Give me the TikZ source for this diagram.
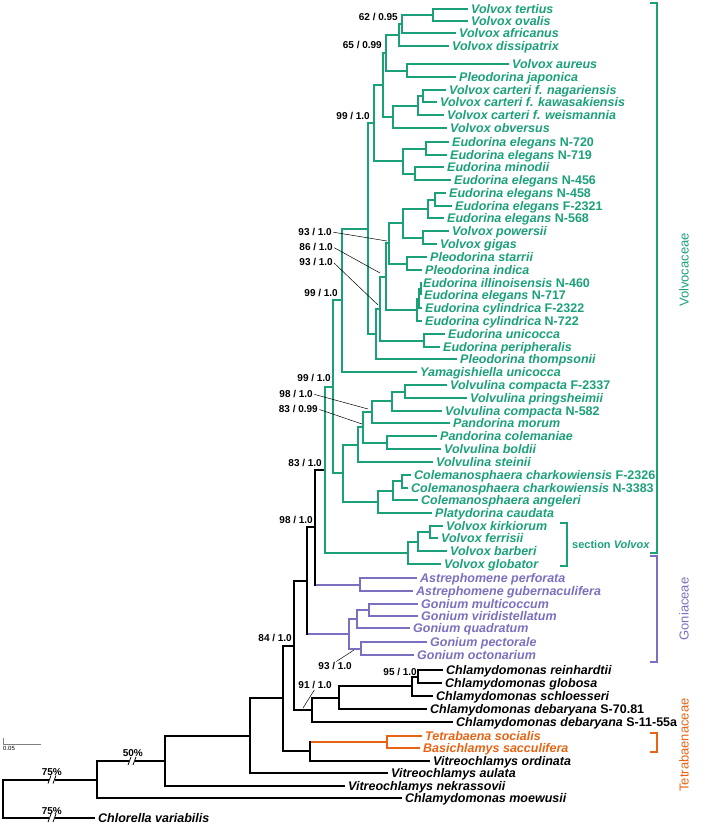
\documentclass[tikz,border=0pt]{standalone}
\usepackage{fontspec}
\setmainfont{Liberation Sans}
\usetikzlibrary{positioning}
\definecolor{volvgreen}{RGB}{27,161,122}
\definecolor{gonpurple}{RGB}{122,112,192}
\definecolor{tetorange}{RGB}{232,100,20}
\begin{document}
\begin{tikzpicture}[x=1pt,y=-1pt]
	% sizes
	\def\lw{2pt}
	\def\gap{3pt}
	% style definitions
	\tikzstyle{branch} = [draw, line width=\lw];
	\tikzstyle{vbranch} = [branch, volvgreen];
	\tikzstyle{gbranch} = [branch, gonpurple];
	\tikzstyle{tbranch} = [branch, tetorange];
	\tikzstyle{taxon} = [anchor=west, inner xsep=\gap, inner ysep=0pt, text height=9pt, text depth=0pt, font=\fontsize{12.5}{13.5}\selectfont\bfseries\itshape];
	\tikzstyle{vtaxon} = [taxon, text=volvgreen];
	\tikzstyle{gtaxon} = [taxon, text=gonpurple];
	\tikzstyle{ttaxon} = [taxon, text=tetorange];
	\tikzstyle{support} = [anchor=east, inner sep=0pt, text height=7pt, text depth=0pt, font=\fontsize{10}{11}\selectfont\bfseries];
	\tikzstyle{leader} = [draw, line width=0.5pt, shorten <=1.5pt];
	\tikzstyle{family} = [rotate=90, inner sep=0pt, font=\fontsize{13}{14}\selectfont];
	\useasboundingbox (0,0) rectangle (709,825);

	% internal nodes of the tree
	\foreach \nm/\x/\y in {root/3/799, nA/97/779.5, nB/165/761, nC/250/735.5, nD/283/698,
		nE/294/645.5, nF/307/580.5, nG/315/526.5, nH/325/470, nI/333/386.5, nJ/342/300,
		nL/368/228.5, nQ/374/123, nP/383/85, nV65/386/52.75, nV1/399/35, nV62/402/24,
		nV0/433/15, nAur/407/70.5, nCa3/393/117, nCa2/418/105.5, nCa1/423/96,
		nEu1/403/161, nEu2/426/148.5, nEu3/415/173.5, nR/376/334, nS/380/308.5,
		nT/386/276.5, nU/389/243, nEu4/403/223, nEu5/428/209, nEu6/435/199.5,
		nPg/423/237.5, nPl/407/263.5, nIl3/417/310, nIl2/419/298.5, nIl1/421/289,
		nUn/424/340.5, nK/343/473, nV6/358/444.5, nV5/363/427, nV3/372/412,
		nV2/392/401, nVv1/405/391.5, nV4/387/442.5, nCo3/378/502, nCo2/393/490.5,
		nCo1/402/481, nSv3/408/553, nSv2/418/541.5, nSv1/430/532, nAs/360/584.5,
		nGo4/349/634, nGo2/357/619, nGo1/369/610, nGo3/361/648.5, nCh4/312/710,
		nCh3/339/697.5, nCh2/412/686, nCh1/418/676.5, nT2/310/751, nT1/387/741.5}
		\coordinate (\nm) at (\x,\y);

	% Volvocaceae
	\foreach \nm/\x/\y/\txt in {tertius/468/9/Volvox tertius, ovalis/468/21/Volvox ovalis,
		africanus/456/33/Volvox africanus, dissipatrix/449/46/Volvox dissipatrix,
		aureus/509/64/Volvox aureus, japonica/456/77/Pleodorina japonica,
		nagariensis/446/90/Volvox carteri f. nagariensis,
		kawasakiensis/437/102/Volvox carteri f. kawasakiensis,
		weismannia/444/115/Volvox carteri f. weismannia, obversus/447/128/Volvox obversus,
		elN720/449/142/Eudorina elegans \upshape N-720, elN719/447/155/Eudorina elegans \upshape N-719,
		minodii/444/167/Eudorina minodii, elN456/451/180/Eudorina elegans \upshape N-456,
		elN458/446/193/Eudorina elegans \upshape N-458, elF2321/452/206/Eudorina elegans \upshape F-2321,
		elN568/444/218/Eudorina elegans \upshape N-568, powersii/449/231/Volvox powersii,
		gigas/437/244/Volvox gigas, starrii/427/257/Pleodorina starrii,
		indica/422/270/Pleodorina indica, illinois/420/283/Eudorina illinoisensis \upshape N-460,
		elN717/421/295/Eudorina elegans \upshape N-717, cyF2322/422/308/Eudorina cylindrica \upshape F-2322,
		cyN722/422/321/Eudorina cylindrica \upshape N-722, unicocca/445/334/Eudorina unicocca,
		peripheralis/440/347/Eudorina peripheralis, thompsonii/457/359/Pleodorina thompsonii,
		yamagishiella/417/372/Yamagishiella unicocca,
		coF2337/447/385/Volvulina compacta \upshape F-2337, pringsheimii/467/398/Volvulina pringsheimii,
		coN582/442/411/Volvulina compacta \upshape N-582, morum/450/423/Pandorina morum,
		colemaniae/437/436/Pandorina colemaniae, boldii/441/449/Volvulina boldii,
		steinii/433/462/Volvulina steinii,
		chF2326/411/475/Colemanosphaera charkowiensis \upshape F-2326,
		chN3383/408/488/Colemanosphaera charkowiensis \upshape N-3383,
		angeleri/418/500/Colemanosphaera angeleri, platydorina/432/513/Platydorina caudata,
		kirkiorum/443/526/Volvox kirkiorum, ferrisii/438/538/Volvox ferrisii,
		barberi/447/551/Volvox barberi, globator/441/564/Volvox globator}
		\node[vtaxon] (\nm) at (\x,\y) {\txt};

	% Goniaceae
	\foreach \nm/\x/\y/\txt in {perforata/417/578/Astrephomene perforata,
		gubernaculifera/413/591/Astrephomene gubernaculifera,
		multicoccum/418/604/Gonium multicoccum, viridistellatum/418/616/Gonium viridistellatum,
		quadratum/410/628/Gonium quadratum, pectorale/427/642/Gonium pectorale,
		octonarium/414/655/Gonium octonarium}
		\node[gtaxon] (\nm) at (\x,\y) {\txt};

	% Tetrabaenaceae
	\node[ttaxon] (tetrabaena) at (422,735.5) {Tetrabaena socialis};
	\node[ttaxon] (basichlamys) at (420,747.5) {Basichlamys sacculifera};

	% outgroups
	\foreach \nm/\x/\y/\txt in {reinhardtii/443/670/Chlamydomonas reinhardtii,
		globosa/442/683/Chlamydomonas globosa, schloesseri/433/696/Chlamydomonas schloesseri,
		deS7081/427/709/Chlamydomonas debaryana \upshape S-70.81,
		deS1155/453/722/Chlamydomonas debaryana \upshape S-11-55a,
		ordinata/430/761/Vitreochlamys ordinata, aulata/388/773/Vitreochlamys aulata,
		nekrassovii/345/786/Vitreochlamys nekrassovii, moewusii/402/798/Chlamydomonas moewusii,
		chlorella/95/818/Chlorella variabilis}
		\node[taxon] (\nm) at (\x,\y) {\txt};

	% black branches
	\foreach \p/\c in {root/nA, root/chlorella.west, nA/nB, nA/moewusii.west, nB/nC,
		nB/nekrassovii.west, nC/nD, nC/aulata.west, nD/nE, nD/nT2, nE/nF, nE/nCh4,
		nF/nG, nF/nGo4, nG/nH, nG/nAs, nCh4/nCh3, nCh4/deS1155.west, nCh3/nCh2,
		nCh3/deS7081.west, nCh2/nCh1, nCh2/schloesseri.west, nCh1/reinhardtii.west,
		nCh1/globosa.west, nT2/nT1, nT2/ordinata.west}
		\draw[branch] (\p) |- (\c);

	% green branches
	\foreach \p/\c in {nH/nI, nH/nSv3, nI/nJ, nI/nK, nJ/nL, nJ/yamagishiella.west,
		nL/nQ, nL/nR, nQ/nP, nQ/nEu1, nP/nV65, nP/nCa3, nV65/nV1, nV65/nAur,
		nV1/nV62, nV1/dissipatrix.west, nV62/nV0, nV62/africanus.west,
		nV0/tertius.west, nV0/ovalis.west, nAur/aureus.west, nAur/japonica.west,
		nCa3/nCa2, nCa3/obversus.west, nCa2/nCa1, nCa2/weismannia.west,
		nCa1/nagariensis.west, nCa1/kawasakiensis.west, nEu1/nEu2, nEu1/nEu3,
		nEu2/elN720.west, nEu2/elN719.west, nEu3/minodii.west, nEu3/elN456.west,
		nR/nS, nR/thompsonii.west, nS/nT, nS/nUn, nT/nU, nT/nIl3, nU/nEu4, nU/nPl,
		nEu4/nEu5, nEu4/nPg, nEu5/nEu6, nEu5/elN568.west, nEu6/elN458.west,
		nEu6/elF2321.west, nPg/powersii.west, nPg/gigas.west, nPl/starrii.west,
		nPl/indica.west, nIl3/nIl2, nIl3/cyN722.west, nIl2/nIl1, nIl2/cyF2322.west,
		nIl1/illinois.west, nIl1/elN717.west, nUn/unicocca.west, nUn/peripheralis.west,
		nK/nV6, nK/nCo3, nV6/nV5, nV6/steinii.west, nV5/nV3, nV5/nV4, nV3/nV2,
		nV3/morum.west, nV2/nVv1, nV2/coN582.west, nVv1/coF2337.west,
		nVv1/pringsheimii.west, nV4/colemaniae.west, nV4/boldii.west, nCo3/nCo2,
		nCo3/platydorina.west, nCo2/nCo1, nCo2/angeleri.west, nCo1/chF2326.west,
		nCo1/chN3383.west, nSv3/nSv2, nSv3/globator.west, nSv2/nSv1,
		nSv2/barberi.west, nSv1/kirkiorum.west, nSv1/ferrisii.west}
		\draw[vbranch] (\p) |- (\c);

	% purple branches
	\draw[gbranch] ([xshift=1pt]nG |- nAs) -- (nAs);
	\draw[gbranch] ([xshift=1pt]nF |- nGo4) -- (nGo4);
	\foreach \p/\c in {nAs/perforata.west, nAs/gubernaculifera.west, nGo4/nGo2, nGo4/nGo3,
		nGo2/nGo1, nGo2/quadratum.west, nGo1/multicoccum.west, nGo1/viridistellatum.west,
		nGo3/pectorale.west, nGo3/octonarium.west}
		\draw[gbranch] (\p) |- (\c);

	% orange branches
	\draw[tbranch] ([xshift=1pt]nT2 |- nT1) -- (nT1);
	\draw[tbranch] (nT1) |- (tetrabaena.west);
	\draw[tbranch] (nT1) |- (basichlamys.west);

	% broken branches
	\foreach \x/\y in {52/779.5, 52/818, 132/761} {
		\fill[white] (\x-3,\y-3) rectangle (\x+3,\y+3);
		\draw[line width=0.8pt] (\x-4,\y+4) -- (\x-1,\y-4);
		\draw[line width=0.8pt] (\x+1,\y+4) -- (\x+4,\y-4);
	}

	% support values
	\node[support] (s62) at (398,17) {62 / 0.95};
	\node[support] (s65) at (382,45) {65 / 0.99};
	\node[support] (s99a) at (370,116) {99 / 1.0};
	\node[support] (s93a) at (332,232) {93 / 1.0};
	\node[support] (s86) at (333,247) {86 / 1.0};
	\node[support] (s93b) at (333,262) {93 / 1.0};
	\node[support] (s99b) at (338,293) {99 / 1.0};
	\node[support] (s99c) at (331,378) {99 / 1.0};
	\node[support] (s98a) at (313,394) {98 / 1.0};
	\node[support] (s83a) at (318,409) {83 / 0.99};
	\node[support] (s83b) at (322,463) {83 / 1.0};
	\node[support] (s98b) at (313,520) {98 / 1.0};
	\node[support] (s84) at (292,638) {84 / 1.0};
	\node[support] (s93c) at (352,666) {93 / 1.0};
	\node[support] (s95) at (417,672) {95 / 1.0};
	\node[support] (s91) at (332,685) {91 / 1.0};
	\node[support] (s50) at (143,753) {50\%};
	\node[support] (s75a) at (62,772) {75\%};
	\node[support] (s75b) at (62,811) {75\%};

	% leader lines
	\coordinate (l93a) at (387,241);
	\coordinate (l86) at (380,273);
	\coordinate (l93b) at (378,305);
	\coordinate (l98) at (368,409);
	\coordinate (l83) at (362,424);
	\coordinate (l93c) at (354,650);
	\coordinate (l91) at (303,708);
	\draw[leader] (s93a.east) -- (l93a);
	\draw[leader] (s86.east) -- (l86);
	\draw[leader] (s93b.east) -- (l93b);
	\draw[leader] (s98a.east) -- (l98);
	\draw[leader] (s83a.east) -- (l83);
	\draw[leader] (s93c.north) -- (l93c);
	\draw[leader] (s91.south) -- (l91);

	% scale bar
	\draw[line width=0.4pt, gray] (3,738) -- (3,744) -- (41,744);
	\node[anchor=north west, inner sep=0pt, font=\fontsize{6}{6}\selectfont] (scale) at (3,746) {0.05};

	% family brackets
	\draw[volvgreen, line width=1.5pt] (650,3) -- (657,3) -- (657,553) -- (650,553);
	\node[family, text=volvgreen] (volvocaceae) at (684,270) {Volvocaceae};
	\draw[gonpurple, line width=1.5pt] (650,556) -- (657,556) -- (657,662) -- (650,662);
	\node[family, text=gonpurple] (goniaceae) at (684,609) {Goniaceae};
	\draw[tetorange, line width=1.5pt] (650,733) -- (657,733) -- (657,752) -- (650,752);
	\node[family, text=tetorange] (tetrabaenaceae) at (684,745) {Tetrabaenaceae};
	\draw[volvgreen, line width=1.5pt] (560,523) -- (567,523) -- (567,566) -- (560,566);
	\node[anchor=west, inner sep=0pt, text=volvgreen, font=\fontsize{11}{12}\selectfont\bfseries] (secvolvox) at (572,545) {section \textit{Volvox}};
\end{tikzpicture}
\end{document}
